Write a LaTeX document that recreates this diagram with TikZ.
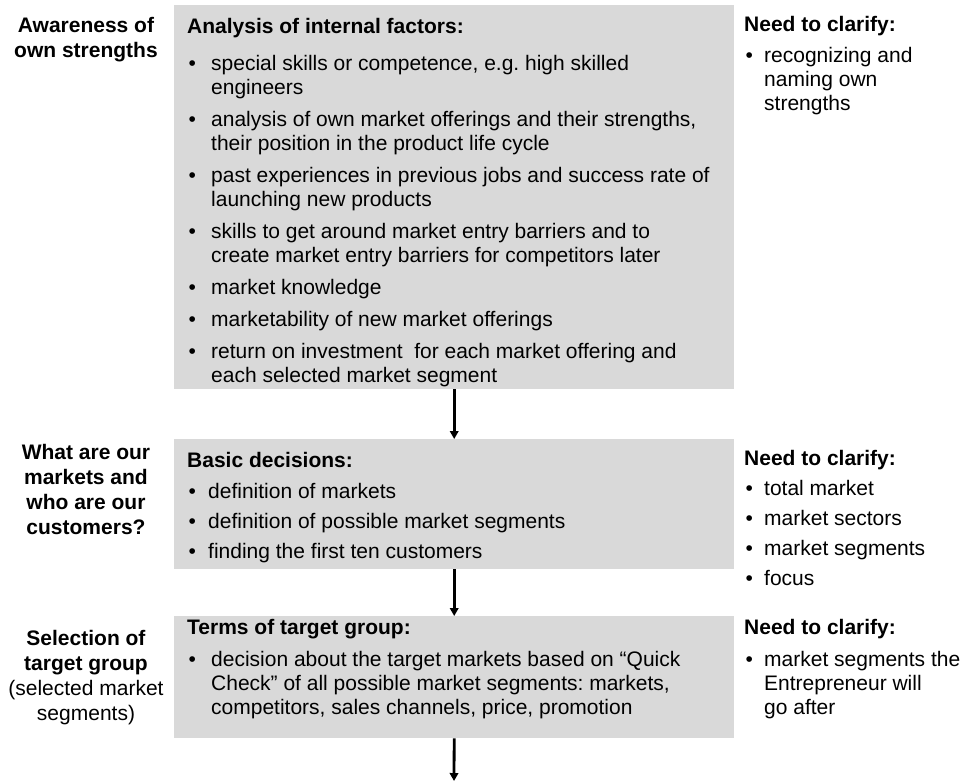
\documentclass[tikz,border=0pt]{standalone}
\usepackage{fontspec}
\setmainfont{Liberation Sans}
\usetikzlibrary{arrows.meta}
\definecolor{panelgray}{RGB}{217,217,217}
\frenchspacing

\newcommand{\bul}{\hspace{1.5pt}\textbullet}

\begin{document}
\begin{tikzpicture}[x=1pt, y=-1pt,
    panel/.style={fill=panelgray, inner sep=0pt, anchor=north west, minimum width=560pt},
    body/.style={inner sep=0pt, anchor=base west, font=\fontsize{21}{24}\selectfont},
    side/.style={inner sep=0pt, anchor=base, font=\fontsize{21}{25}\selectfont},
    flow/.style={line width=2.8pt, -{Triangle[length=8pt,width=8.5pt]}}]
    \useasboundingbox (0,0) rectangle (971,782);

    % Gray boxes
    \node[panel, minimum height=384pt] (analysis) at (174,5) {};
    \node[panel, minimum height=130pt] (basic) at (174,439) {};
    \node[panel, minimum height=122pt] (terms) at (174,616) {};

    % Arrows between boxes
    \coordinate (out) at (454,781);
    \draw[flow] (analysis.south) -- (basic.north);
    \draw[flow] (basic.south) -- (terms.north);
    \draw[flow] (terms.south) -- (out);

    % Left labels
    \node[side] (aware) at (86,32) {\begin{tabular}[t]{@{}c@{}}
        \textbf{Awareness of}\\\textbf{own strengths}\end{tabular}};
    \node[side] (markets) at (86,459) {\begin{tabular}[t]{@{}c@{}}
        \textbf{What are our}\\\textbf{markets and}\\\textbf{who are our}\\\textbf{customers?}\end{tabular}};
    \node[side] (select) at (86,645) {\begin{tabular}[t]{@{}c@{}}
        \textbf{Selection of}\\\textbf{target group}\\(selected market\\segments)\end{tabular}};

    % Box texts
    \node[body] (analysisText) at (187,33) {\begin{tabular}[t]{@{}p{24pt}@{}l@{}}
        \multicolumn{2}{@{}l@{}}{\textbf{Analysis of internal factors:}}\\[13pt]
        \bul & special skills or competence, e.g. high skilled\\
             & engineers\\[8pt]
        \bul & analysis of own market offerings and their strengths,\\
             & their position in the product life cycle\\[8pt]
        \bul & past experiences in previous jobs and success rate of\\
             & launching new products\\[8pt]
        \bul & skills to get around market entry barriers and to\\
             & create market entry barriers for competitors later\\[8pt]
        \bul & market knowledge\\[8pt]
        \bul & marketability of new market offerings\\[8pt]
        \bul & return on investment~ for each market offering and\\
             & each selected market segment
        \end{tabular}};
    \node[body] (basicText) at (187,467) {\begin{tabular}[t]{@{}p{21pt}@{}l@{}}
        \multicolumn{2}{@{}l@{}}{\textbf{Basic decisions:}}\\[7pt]
        \bul & definition of markets\\[6pt]
        \bul & definition of possible market segments\\[6pt]
        \bul & finding the first ten customers
        \end{tabular}};
    \node[body] (termsText) at (187,634) {\begin{tabular}[t]{@{}p{24pt}@{}l@{}}
        \multicolumn{2}{@{}l@{}}{\textbf{Terms of target group:}}\\[8pt]
        \bul & decision about the target markets based on “Quick\\
             & Check” of all possible market segments: markets,\\
             & competitors, sales channels, price, promotion
        \end{tabular}};

    % Right column
    \node[body] (needOwn) at (744,31) {\begin{tabular}[t]{@{}p{20pt}@{}l@{}}
        \multicolumn{2}{@{}l@{}}{\textbf{Need to clarify:}}\\[7pt]
        \bul & recognizing and\\
             & naming own\\
             & strengths
        \end{tabular}};
    \node[body] (needMarket) at (744,465) {\begin{tabular}[t]{@{}p{20pt}@{}l@{}}
        \multicolumn{2}{@{}l@{}}{\textbf{Need to clarify:}}\\[6pt]
        \bul & total market\\[6pt]
        \bul & market sectors\\[6pt]
        \bul & market segments\\[6pt]
        \bul & focus
        \end{tabular}};
    \node[body] (needTarget) at (744,634) {\begin{tabular}[t]{@{}p{20pt}@{}l@{}}
        \multicolumn{2}{@{}l@{}}{\textbf{Need to clarify:}}\\[8pt]
        \bul & market segments the\\
             & Entrepreneur will\\
             & go after
        \end{tabular}};

\end{tikzpicture}
\end{document}
